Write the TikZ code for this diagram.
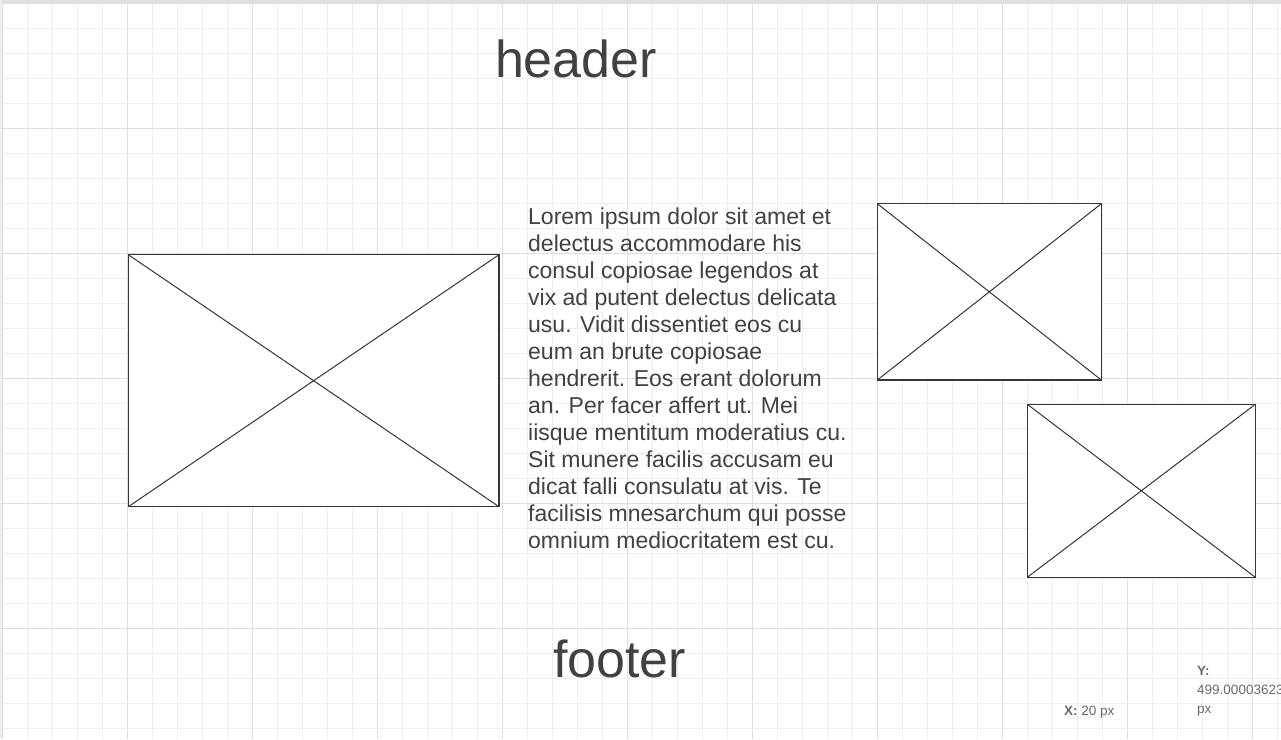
\documentclass[tikz,border=0pt]{standalone}
\usepackage{fontspec}
\setmainfont{Liberation Sans}
\definecolor{gridminor}{HTML}{EEEEEE}
\definecolor{gridmajor}{HTML}{DFDFDF}
\definecolor{inkgray}{HTML}{414141}
\definecolor{linegray}{HTML}{363636}
\definecolor{labelgray}{HTML}{6A6A6A}
\tikzset{
	imagebox/.style 2 args={draw=linegray, fill=white, line width=1.1pt, inner sep=0pt, outer sep=0pt, minimum width=#1, minimum height=#2, anchor=north west},
	cross/.style={draw=linegray, line width=1pt},
	bigtitle/.style={text=inkgray, font=\fontsize{52}{60}\selectfont, inner sep=0pt, anchor=base},
	coordlabel/.style={text=labelgray, font=\fontsize{13.5}{19}\selectfont, inner sep=0pt, anchor=base west, align=left}
}
\begin{document}
\begin{tikzpicture}[x=1pt, y=-1pt]
			\useasboundingbox (0, 0) rectangle (1281, 739);
			\fill[white] (0, 0) rectangle (1281, 739);
			\foreach \i in {0, ..., 51}
			{
				\pgfmathparse{mod(\i, 5) == 0 ? "gridmajor" : "gridminor"}
				\edef\colour{\pgfmathresult}
				\draw[\colour, line width=1pt] (2.5 + 25*\i, 0) -- + (0, 739);
			}
			\foreach \j in {0, ..., 29}
			{
				\pgfmathparse{mod(\j, 5) == 0 ? "gridmajor" : "gridminor"}
				\edef\colour{\pgfmathresult}
				\draw[\colour, line width=1pt] (0, 3 + 25*\j) -- + (1281, 0);
			}
			\fill[gridmajor] (0, 0) rectangle (1281, 3);
			\fill[gridminor] (0, 0) rectangle (2, 739);
			\node[imagebox={370.7}{252}] (photo) at (128.3, 254.7) {};
			\node[imagebox={224}{176.3}] (thumbtop) at (877.3, 203.7) {};
			\node[imagebox={228}{173}] (thumbbottom) at (1027.3, 404.3) {};
			\foreach \b in {photo, thumbtop, thumbbottom}
				\draw[cross] (\b.north west) -- (\b.south east) (\b.south west) -- (\b.north east);
			\node[bigtitle] (header) at (576, 77) {header};
			\node[bigtitle] (footer) at (619.5, 677) {footer};
			\node[text=inkgray, font=\fontsize{23}{27}\selectfont, inner sep=0pt, anchor=base west, align=left] (lorem) at (528, 548)
				{Lorem ipsum dolor sit amet et\\ delectus accommodare his\\ consul copiosae legendos at\\ vix ad putent delectus delicata\\ usu. Vidit dissentiet eos cu\\ eum an brute copiosae\\ hendrerit. Eos erant dolorum\\ an. Per facer affert ut. Mei\\ iisque mentitum moderatius cu.\\ Sit munere facilis accusam eu\\ dicat falli consulatu at vis. Te\\ facilisis mnesarchum qui posse\\ omnium mediocritatem est cu.};
			\node[coordlabel] (xpos) at (1064, 715) {\textbf{X:} 20 px};
			\node[coordlabel] (ypos) at (1197, 713) {\textbf{Y:}\\ 499.00003623\\ px};
		\end{tikzpicture}
\end{document}
